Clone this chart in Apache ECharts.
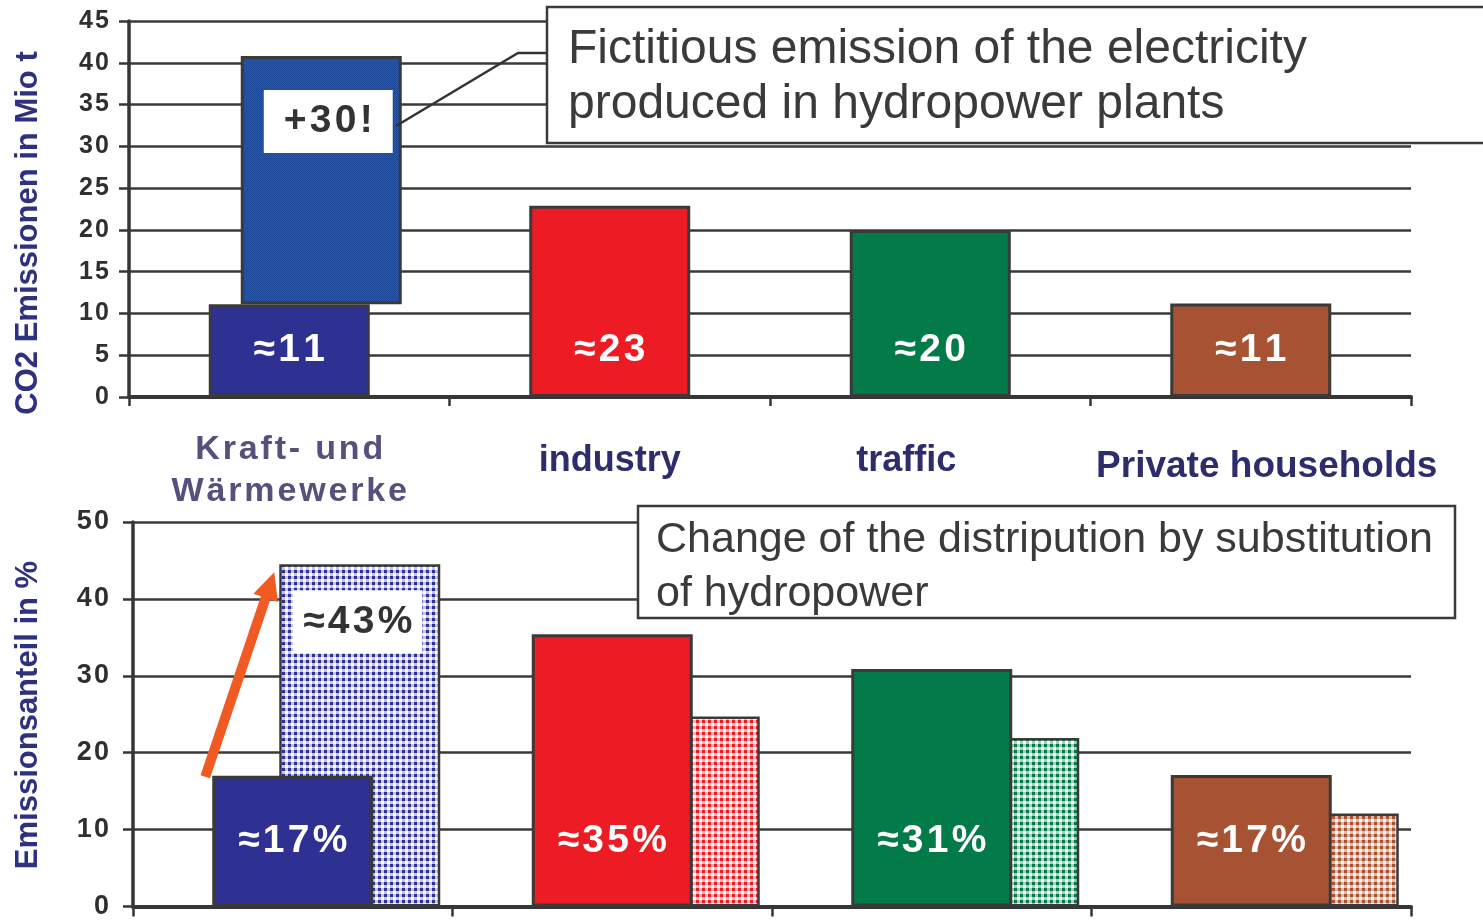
<!DOCTYPE html>
<html><head><meta charset="utf-8">
<script src="https://cdn.jsdelivr.net/npm/echarts@6/dist/echarts.min.js"></script>
<style>html,body{margin:0;padding:0;background:#fff}#c{width:1483px;height:920px}</style>
</head><body><div id="c"></div>
<script>
// ---------- data ----------
const categories = ['Kraft- und\nWärmewerke', 'industry', 'traffic', 'Private households'];
const co2Values = [11.1, 22.9, 20, 11.2];
const co2Labels = ['≈11', '≈23', '≈20', '≈11'];
const hydroBase = [11.1, null, null, null];
const hydroExtra = [29.7, null, null, null];
const hydroLabels = ['+30!', '', '', ''];
const shareBefore = [17, 35.4, 30.9, 17.1];
const shareBeforeLabels = ['≈17%', '≈35%', '≈31%', '≈17%'];
const shareAfter = [44.5, 24.7, 21.9, 12.1];
const shareAfterLabels = ['≈43%', '', '', ''];
const co2Axis = { min: 0, max: 45, interval: 5 };
const shareAxis = { min: 0, max: 50, interval: 10 };
const co2AxisName = 'CO2 Emissionen in Mio t';
const shareAxisName = 'Emissionsanteil in %';
const noteTop = ['Fictitious emission of the electricity', 'produced in hydropower plants'];
const noteBottom = ['Change of the distripution by substitution', 'of hydropower'];

// ---------- styles ----------
const FONT = '"Liberation Sans", Arial, Helvetica, sans-serif';
const solidColors = ['#2e3192', '#ed1c24', '#027b48', '#a65233'];
const lightColors = ['#c3c4e6', '#f6b3b5', '#a3d0bb', '#e3b9a5'];
const catStyleKeys = ['k', 'n', 't', 'p'];
const BW = 161;            // bar width px
const TOP_OFF = 32;        // offset of hydro bar (top chart)
const BOT_OFF = 67;        // offset of substituted bar (bottom chart)
const gapTop = (TOP_OFF / BW - 1) * 100 + '%';
const gapBot = (BOT_OFF / BW - 1) * 100 + '%';
const spaced = s => s.split('').join('\u200A');

function pattern(dark, light, mid) {
  const c = document.createElement('canvas');
  c.width = 6; c.height = 6;
  const g = c.getContext('2d');
  g.fillStyle = light; g.fillRect(0, 0, 6, 6);
  g.fillStyle = dark; g.fillRect(0, 0, 3, 3);
  g.fillStyle = mid; g.fillRect(3, 3, 3, 3);
  return { image: c, repeat: 'repeat' };
}
function densePattern(a, b) {
  const c = document.createElement('canvas');
  c.width = 2; c.height = 2;
  const g = c.getContext('2d');
  g.fillStyle = a; g.fillRect(0, 0, 2, 2);
  g.fillStyle = b; g.fillRect(0, 0, 1, 1); g.fillRect(1, 1, 1, 1);
  return { image: c, repeat: 'repeat' };
}

const axisColor = '#363636';
function yAxisCfg(gridIndex, ax, fs, margin) {
  return {
    type: 'value', gridIndex, min: ax.min, max: ax.max, interval: ax.interval,
    axisLine: { show: true, lineStyle: { color: axisColor, width: 3.5 } },
    axisTick: { show: true, length: 10, lineStyle: { color: axisColor, width: 2.5 } },
    splitLine: { show: true, lineStyle: { color: '#3a3a3a', width: 2.5 } },
    axisLabel: {
      margin, color: '#2f2f2f', fontSize: fs, fontWeight: 'bold', fontFamily: FONT,
      formatter: v => String(v).split('').join('\u200A')
    }
  };
}

const chart = echarts.init(document.getElementById('c'), null, { renderer: 'canvas' });
const nullData = categories.map(() => null);

const option = {
  animation: false,
  backgroundColor: '#fff',
  grid: [
    { left: 129, right: 72, top: 21, height: 376 },
    { left: 133, right: 72, top: 522, height: 385 }
  ],
  xAxis: [
    {
      type: 'category', gridIndex: 0, data: categories,
      axisLine: { lineStyle: { color: axisColor, width: 4 } },
      axisTick: { show: true, length: 9, lineStyle: { color: axisColor, width: 2.5 } },
      axisLabel: {
        margin: 74, verticalAlign: 'middle', interval: 0,
        formatter: (v, i) => v.split('\n').map(s => '{' + catStyleKeys[i] + '|' + (i === 0 ? spaced(s) : s) + '}').join('\n'),
        rich: {
          k: { fontSize: 34, fontWeight: 'bold', color: '#55507c', fontFamily: FONT, lineHeight: 42 },
          n: { fontSize: 36, fontWeight: 'bold', color: '#2e2d6b', fontFamily: FONT, lineHeight: 42, padding: [0, 0, 20, 0] },
          t: { fontSize: 36, fontWeight: 'bold', color: '#2e2d6b', fontFamily: FONT, lineHeight: 42, padding: [0, 48, 20, 0] },
          p: { fontSize: 37, fontWeight: 'bold', color: '#2e2d6b', fontFamily: FONT, lineHeight: 42, padding: [0, 0, 8, 32] }
        }
      }
    },
    {
      type: 'category', gridIndex: 1, data: categories,
      axisLine: { lineStyle: { color: axisColor, width: 4 } },
      axisTick: { show: true, length: 10, lineStyle: { color: axisColor, width: 2.5 } },
      axisLabel: { show: false }
    }
  ],
  yAxis: [yAxisCfg(0, co2Axis, 25, 20), yAxisCfg(1, shareAxis, 27, 24)],
  series: [
    // top chart
    { type: 'bar', name: 'pad0', xAxisIndex: 0, yAxisIndex: 0, data: nullData, barWidth: BW, barGap: gapTop, silent: true },
    {
      type: 'bar', name: 'co2', xAxisIndex: 0, yAxisIndex: 0, barWidth: BW, barGap: gapTop, z: 3,
      data: co2Values.map((v, i) => ({ value: v, itemStyle: { color: solidColors[i] } })),
      itemStyle: { borderColor: '#3a3a3a', borderWidth: 3 },
      label: {
        show: true, position: 'insideBottom', distance: 27,
        formatter: p => spaced(co2Labels[p.dataIndex]),
        color: '#fff', fontSize: 39, fontWeight: 'bold', fontFamily: FONT
      }
    },
    {
      type: 'bar', name: 'hydroBase', stack: 'hydro', xAxisIndex: 0, yAxisIndex: 0, barWidth: BW, barGap: gapTop,
      data: hydroBase, itemStyle: { color: 'rgba(0,0,0,0)' }, silent: true
    },
    {
      type: 'bar', name: 'hydro', stack: 'hydro', xAxisIndex: 0, yAxisIndex: 0, barWidth: BW, barGap: gapTop, z: 4,
      data: hydroExtra,
      itemStyle: { color: densePattern('#2858ac', '#1c4899'), borderColor: '#3a3a3a', borderWidth: 3 },
      label: {
        show: true, position: 'insideTop', distance: 34, offset: [7, 0],
        formatter: p => spaced(hydroLabels[p.dataIndex]),
        color: '#333', fontSize: 39, fontWeight: 'bold', fontFamily: FONT,
        backgroundColor: '#fff', padding: [12, 20, 12, 20]
      }
    },
    // bottom chart
    { type: 'bar', name: 'pad1', xAxisIndex: 1, yAxisIndex: 1, data: nullData, barWidth: BW, barGap: gapBot, silent: true },
    {
      type: 'bar', name: 'shareBefore', xAxisIndex: 1, yAxisIndex: 1, barWidth: BW, barGap: gapBot, z: 4,
      data: shareBefore.map((v, i) => ({ value: v, itemStyle: { color: solidColors[i] } })),
      itemStyle: { borderColor: '#3a3a3a', borderWidth: 3 },
      label: {
        show: true, position: 'insideBottom', distance: 46,
        formatter: p => spaced(shareBeforeLabels[p.dataIndex]),
        color: '#fff', fontSize: 39, fontWeight: 'bold', fontFamily: FONT
      }
    },
    {
      type: 'bar', name: 'shareAfter', xAxisIndex: 1, yAxisIndex: 1, barWidth: BW, barGap: gapBot, z: 2,
      data: shareAfter.map((v, i) => ({
        value: v,
        itemStyle: { color: pattern(solidColors[i], lightColors[i], '#ffffff') },
        label: { show: shareAfterLabels[i] !== '' }
      })),
      itemStyle: { borderColor: '#3a3a3a', borderWidth: 2.5 },
      label: {
        position: 'insideTop', distance: 26, offset: [-2, 0],
        formatter: p => spaced(shareAfterLabels[p.dataIndex]),
        color: '#333', fontSize: 39, fontWeight: 'bold', fontFamily: FONT,
        backgroundColor: '#fff', padding: [12, 10, 12, 10]
      }
    }
  ],
  graphic: [
    { id: 'ytitle0', type: 'text', x: 28, y: 233, rotation: Math.PI / 2, z: 100,
      style: { text: co2AxisName, fontSize: 31, fontWeight: 'bold', fontFamily: FONT, fill: '#2e3180', align: 'center', verticalAlign: 'middle' } },
    { id: 'ytitle1', type: 'text', x: 28, y: 715, rotation: Math.PI / 2, z: 100,
      style: { text: shareAxisName, fontSize: 31, fontWeight: 'bold', fontFamily: FONT, fill: '#2e3180', align: 'center', verticalAlign: 'middle' } },
    { id: 'boxTop', type: 'rect', z: 100, shape: { x: 547, y: 7, width: 1000, height: 136 },
      style: { fill: '#fff', stroke: '#3a3a3a', lineWidth: 2.5 } },
    { id: 'noteTop1', type: 'text', z: 101, x: 568, y: 49.5,
      style: { text: noteTop[0], fontSize: 48, fontFamily: FONT, fill: '#3a3a3a', align: 'left', verticalAlign: 'middle' } },
    { id: 'noteTop2', type: 'text', z: 101, x: 568, y: 104.5,
      style: { text: noteTop[1], fontSize: 48, fontFamily: FONT, fill: '#3a3a3a', align: 'left', verticalAlign: 'middle' } },
    { id: 'leader', type: 'polyline', z: 101, shape: { points: [[396, 126], [518, 53], [547, 53]] },
      style: { stroke: '#333', lineWidth: 2.5, fill: null } },
    { id: 'boxBot', type: 'rect', z: 100, shape: { x: 638, y: 506, width: 817, height: 112 },
      style: { fill: '#fff', stroke: '#3a3a3a', lineWidth: 2.5 } },
    { id: 'noteBot1', type: 'text', z: 101, x: 656, y: 540.5,
      style: { text: noteBottom[0], fontSize: 43, fontFamily: FONT, fill: '#3a3a3a', align: 'left', verticalAlign: 'middle' } },
    { id: 'noteBot2', type: 'text', z: 101, x: 656, y: 594.5,
      style: { text: noteBottom[1], fontSize: 43, fontFamily: FONT, fill: '#3a3a3a', align: 'left', verticalAlign: 'middle' } }
  ]
};
chart.setOption(option);

// orange arrow from the original share bar to the substituted share bar
const pA = chart.convertToPixel({ xAxisIndex: 1, yAxisIndex: 1 }, [0, shareBefore[0]]);
const pB = chart.convertToPixel({ xAxisIndex: 1, yAxisIndex: 1 }, [0, shareAfter[0]]);
const tail = [pA[0] - BW / 2 - 7, pA[1] + 1];
const tip = [pA[0] + BOT_OFF - BW / 2 - 5, pB[1] + 8];
const dx = tip[0] - tail[0], dy = tip[1] - tail[1];
const L = Math.sqrt(dx * dx + dy * dy);
const ux = dx / L, uy = dy / L, px = -uy, py = ux;
const headLen = 27, headHalf = 13, shaftHalf = 5;
const bx = tip[0] - ux * headLen, by = tip[1] - uy * headLen;
const pts = [
  [tail[0] + px * shaftHalf, tail[1] + py * shaftHalf],
  [bx + px * shaftHalf, by + py * shaftHalf],
  [bx + px * headHalf, by + py * headHalf],
  tip,
  [bx - px * headHalf, by - py * headHalf],
  [bx - px * shaftHalf, by - py * shaftHalf],
  [tail[0] - px * shaftHalf, tail[1] - py * shaftHalf]
];
chart.setOption({ graphic: [{ id: 'arrow', type: 'polygon', z: 110, shape: { points: pts }, style: { fill: '#f15a22' } }] });
</script>
</body></html>
